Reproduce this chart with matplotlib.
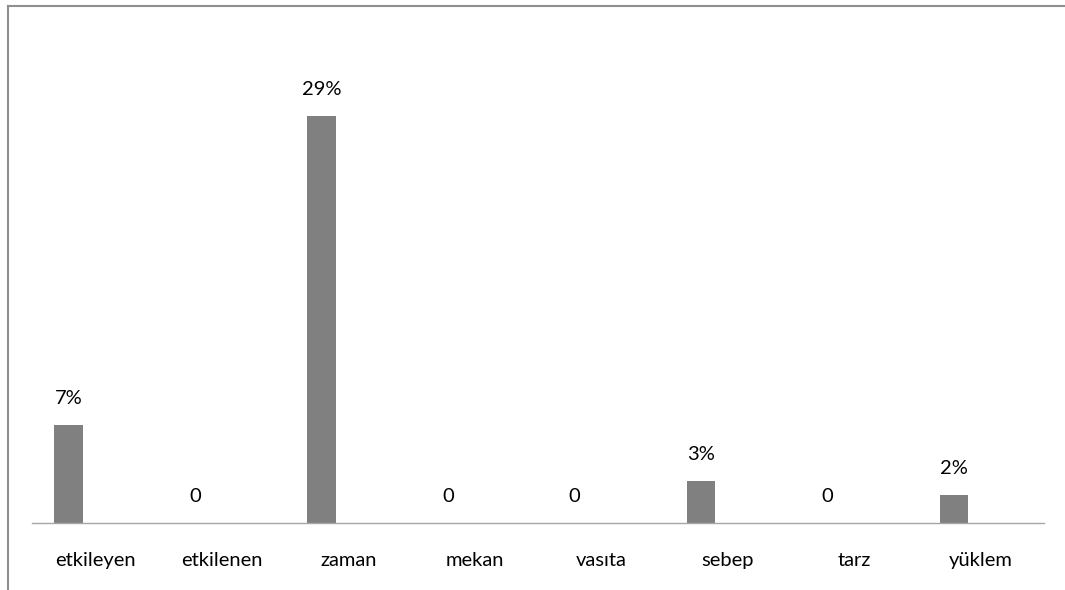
import matplotlib.pyplot as plt
from matplotlib.lines import Line2D

categories = ["etkileyen", "etkilenen", "zaman", "mekan", "vasıta", "sebep", "tarz", "yüklem"]
values = [7, 0, 29, 0, 0, 3, 0, 2]
labels = ["7%", "0", "29%", "0", "0", "3%", "0", "2%"]

plt.rcParams["font.family"] = ["Lato", "DejaVu Sans"]

W, H = 1065, 590
fig = plt.figure(figsize=(W / 100, H / 100), dpi=100)

# axes placement in pixels: x from 32 to 1044, baseline at y=523
px_per_unit = 14.05
ymax = 35
ax_h = ymax * px_per_unit
ax = fig.add_axes([32 / W, (H - 523) / H, (1044 - 32) / W, ax_h / H])

x = list(range(len(categories)))
offset = -0.2115
width = 0.229
bar_x = [i + offset for i in x]
ax.bar(bar_x, values, width=width, color="#808080", zorder=2)

for bx, v, lab in zip(bar_x, values, labels):
    ax.annotate(lab, (bx, v), xytext=(0, 19), textcoords="offset points",
                ha="center", va="center", fontsize=14.5, color="#000000")

ax.set_xlim(-0.5, len(categories) - 0.5)
ax.set_ylim(0, ymax)
ax.set_xticks(x)
ax.set_xticklabels(categories, fontsize=14.5)
ax.tick_params(axis="x", length=0, pad=21)
ax.set_yticks([])
for side in ["top", "right", "left"]:
    ax.spines[side].set_visible(False)
ax.spines["bottom"].set_color("#a6a6a6")
ax.spines["bottom"].set_linewidth(1.0)

# outer chart border (cropped at right and bottom)
border = "#8f8f8f"
fig.add_artist(Line2D([8 / W, 1.0], [1 - 6 / H, 1 - 6 / H], color=border, lw=1.5,
                      transform=fig.transFigure))
fig.add_artist(Line2D([8 / W, 8 / W], [1 - 6 / H, 0], color=border, lw=1.5,
                      transform=fig.transFigure))

fig.savefig("out.png", dpi=100)
